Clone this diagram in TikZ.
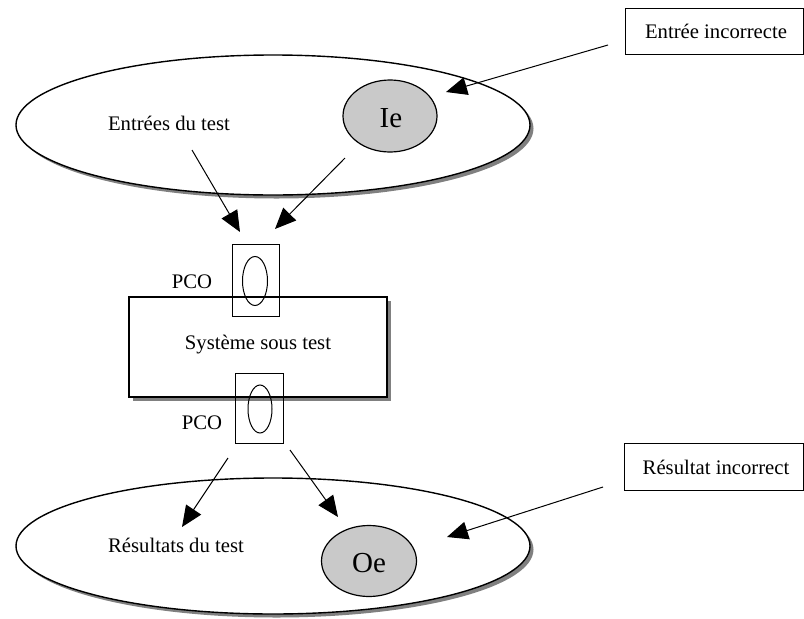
\documentclass[tikz,border=0pt]{standalone}
\usepackage{fontspec}
\setmainfont{Liberation Serif}
\usetikzlibrary{shapes.geometric,arrows.meta,shadows}
\begin{document}
\begin{tikzpicture}[x=1pt,y=-1pt,
  txt/.style={font=\fontsize{20.7}{24}\selectfont, inner sep=0pt},
  big/.style={font=\fontsize{29}{33}\selectfont, inner sep=0pt},
  setshape/.style={ellipse, draw, line width=1.4pt, fill=white, inner sep=0pt,
    drop shadow={shadow xshift=3.5pt, shadow yshift=-3.5pt, fill=black!50, opacity=1}},
  fault/.style={ellipse, draw, line width=1.2pt, fill=gray!42, inner sep=0pt},
  labelbox/.style={rectangle, draw, line width=0.9pt, inner sep=0pt},
  sut/.style={rectangle, draw, line width=1.1pt, fill=white, inner sep=0pt,
    drop shadow={shadow xshift=4pt, shadow yshift=-4pt, fill=black!50, opacity=1}},
  pcobox/.style={rectangle, draw, line width=0.9pt, inner sep=0pt},
  pcoring/.style={ellipse, draw, line width=1pt, inner sep=0pt},
  arr/.style={line width=1pt, -{Triangle[length=21pt,width=18pt]}}
]
\useasboundingbox (0,0) rectangle (804,619);

% input domain
\node[setshape, minimum width=514, minimum height=140] (inD) at (273,125) {};
\node[fault, minimum width=94, minimum height=72] (Ie) at (390,116) {};
\node[big] (IeT) at (391,118) {Ie};
\node[txt] (inT) at (169,123) {Entrées du test};

% faulty input label
\node[labelbox, minimum width=178, minimum height=46] (inBad) at (714,31) {};
\node[txt] (inBadT) at (716,31) {Entrée incorrecte};
\coordinate (s1) at (608,45);
\coordinate (t1) at (446,92);
\draw[arr] (s1) -- (t1);

% system under test
\node[sut, minimum width=258, minimum height=100] (sys) at (258,347) {};
\node[txt] (sysT) at (258,345) {Système sous test};

% points of control and observation
\node[pcobox, minimum width=47, minimum height=72] (pcoA) at (255.5,280) {};
\node[pcoring, minimum width=25, minimum height=49] (ringA) at (255,281) {};
\node[txt] (pcoAT) at (192,282) {PCO};
\node[pcobox, minimum width=48, minimum height=70] (pcoB) at (259,408) {};
\node[pcoring, minimum width=24, minimum height=48] (ringB) at (260,409) {};
\node[txt] (pcoBT) at (202,423) {PCO};

% inputs flowing into the system
\coordinate (a1s) at (192,150);
\coordinate (a1e) at (240,232);
\coordinate (a2s) at (345,158);
\coordinate (a2e) at (275,229);
\draw[arr] (a1s) -- (a1e);
\draw[arr] (a2s) -- (a2e);

% output domain
\node[setshape, minimum width=514, minimum height=136] (outD) at (273,546) {};
\node[fault, minimum width=95, minimum height=71] (Oe) at (369,561) {};
\node[big] (OeT) at (369,563) {Oe};
\node[txt] (outT) at (176,545) {Résultats du test};

% outputs leaving the system
\coordinate (b1s) at (228,458);
\coordinate (b1e) at (182,527);
\coordinate (b2s) at (290,450);
\coordinate (b2e) at (338,517);
\draw[arr] (b1s) -- (b1e);
\draw[arr] (b2s) -- (b2e);

% faulty result label
\node[labelbox, minimum width=179, minimum height=47] (outBad) at (713.5,466.5) {};
\node[txt] (outBadT) at (716,467) {Résultat incorrect};
\coordinate (s2) at (603,487);
\coordinate (t2) at (447,537);
\draw[arr] (s2) -- (t2);
\end{tikzpicture}
\end{document}
